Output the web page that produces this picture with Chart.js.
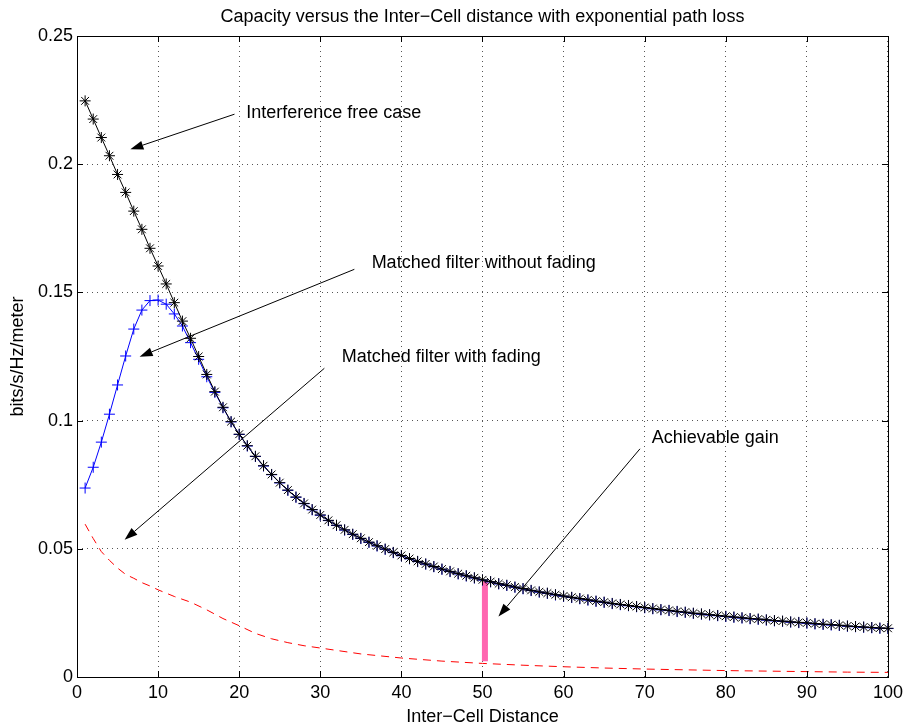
<!DOCTYPE html>
<html><head><meta charset="utf-8">
<script src="https://cdn.jsdelivr.net/npm/chart.js@4/dist/chart.umd.min.js"></script>
<style>html,body{margin:0;padding:0;background:#fff;}</style>
</head><body>
<canvas id="c" width="908" height="728"></canvas>
<script>
// ---- data ----
const distances = [1,2,3,4,5,6,7,8,9,10,11,12,13,14,15,16,17,18,19,20,21,22,23,24,25,26,27,28,29,30,
31,32,33,34,35,36,37,38,39,40,41,42,43,44,45,46,47,48,49,50,51,52,53,54,55,56,57,58,59,60,
61,62,63,64,65,66,67,68,69,70,71,72,73,74,75,76,77,78,79,80,81,82,83,84,85,86,87,88,89,90,
91,92,93,94,95,96,97,98,99,100];

const interferenceFree = [0.2247,0.2176,0.2104,0.2033,0.1960,0.1890,0.1817,0.1746,0.1672,0.1603,
0.1533,0.1460,0.1388,0.1321,0.1250,0.1180,0.1113,0.1052,0.0996,0.0947,
0.0902,0.0861,0.0824,0.0790,0.0758,0.0729,0.0702,0.0677,0.0653,0.0632,
0.0611,0.0592,0.0574,0.0557,0.0541,0.0526,0.0512,0.0499,0.0486,0.0474,
0.0462,0.0451,0.0441,0.0431,0.0421,0.0412,0.0403,0.0395,0.0387,0.0379,
0.0372,0.0364,0.0358,0.0351,0.0345,0.0338,0.0332,0.0327,0.0321,0.0316,
0.0311,0.0306,0.0301,0.0296,0.0292,0.0287,0.0283,0.0279,0.0275,0.0271,
0.0267,0.0263,0.0260,0.0256,0.0253,0.0249,0.0246,0.0243,0.0240,0.0237,
0.0234,0.0231,0.0228,0.0226,0.0223,0.0220,0.0218,0.0215,0.0213,0.0211,
0.0208,0.0206,0.0204,0.0202,0.0199,0.0197,0.0195,0.0193,0.0191,0.0190];

const matchedNoFading = [0.0737,0.0818,0.0916,0.1025,0.1139,0.1252,0.1357,0.1431,0.1468,0.1470,
0.1454,0.1416,0.1369,0.1304,0.1239,0.1171,0.1110,0.1050,0.0995,0.0946,
0.0901,0.0860,0.0823,0.0789,0.0757,0.0728,0.0701,0.0676,0.0652,0.0631,
0.0610,0.0591,0.0573,0.0556,0.0540,0.0525,0.0511,0.0498,0.0485,0.0473,
0.0461,0.0450,0.0440,0.0430,0.0420,0.0411,0.0402,0.0394,0.0386,0.0378,
0.0371,0.0363,0.0357,0.0350,0.0344,0.0337,0.0331,0.0326,0.0320,0.0315,
0.0310,0.0305,0.0300,0.0295,0.0291,0.0286,0.0282,0.0278,0.0274,0.0270,
0.0266,0.0262,0.0259,0.0255,0.0252,0.0248,0.0245,0.0242,0.0239,0.0236,
0.0233,0.0230,0.0227,0.0225,0.0222,0.0219,0.0217,0.0214,0.0212,0.0210,
0.0207,0.0205,0.0203,0.0201,0.0198,0.0196,0.0194,0.0192,0.0190,0.0189];

const fadingDistances = [1,2,3,4,5,6,7,8,9,10,12,14,16,18,20,22,24,26,28,30,35,40,45,50,55,60,65,70,75,80,85,90,95,100];
const matchedFading = [0.0596,0.0540,0.0489,0.0455,0.0425,0.0400,0.0385,0.0368,0.0355,0.0340,
0.0314,0.0292,0.0262,0.0228,0.0200,0.0170,0.0149,0.0134,0.0122,0.0113,
0.0090,0.0074,0.0062,0.0053,0.0046,0.0040,0.0035,0.0031,0.0028,0.0025,
0.0023,0.0021,0.0019,0.0018];

const gainX = [50.3, 50.3];
const gainY = [0.0373, 0.0061];

const xTickLabels = ['0','10','20','30','40','50','60','70','80','90','100'];
const yTickLabels = ['0','0.05','0.1','0.15','0.2','0.25'];

const notes = [
  {text:'Interference free case',       tx:20.86, ty:0.2198, x1:19.42, y1:0.2195, x2:6.58, y2:0.2058},
  {text:'Matched filter without fading', tx:36.33, ty:0.1616, x1:34.2,  y1:0.1590, x2:7.72, y2:0.1249},
  {text:'Matched filter with fading',   tx:32.64, ty:0.1249, x1:30.5,  y1:0.1204, x2:5.87, y2:0.0535},
  {text:'Achievable gain',              tx:70.86, ty:0.0931, x1:69.42, y1:0.0890, x2:51.97, y2:0.0236}
];

// ---- chart ----
const FONT = "'Liberation Sans', Arial, Helvetica, sans-serif";
const FS = 18;
const pts = (xs, ys) => xs.map((x, i) => ({x, y: ys[i]}));

const boxPlugin = {
  id: 'boxTicks',
  afterDatasetsDraw(chart) {
    const {ctx, chartArea: a, scales} = chart;
    ctx.save();
    ctx.strokeStyle = '#000';
    ctx.lineWidth = 1;
    ctx.strokeRect(Math.round(a.left) + 0.5, Math.round(a.top) + 0.5,
                   Math.round(a.right - a.left), Math.round(a.bottom - a.top));
    const L = 6;
    ctx.beginPath();
    scales.x.ticks.forEach(t => {
      const px = Math.round(scales.x.getPixelForValue(t.value)) + 0.5;
      ctx.moveTo(px, a.bottom); ctx.lineTo(px, a.bottom - L);
      ctx.moveTo(px, a.top); ctx.lineTo(px, a.top + L);
    });
    scales.y.ticks.forEach(t => {
      const py = Math.round(scales.y.getPixelForValue(t.value)) + 0.5;
      ctx.moveTo(a.left, py); ctx.lineTo(a.left + L, py);
      ctx.moveTo(a.right, py); ctx.lineTo(a.right - L, py);
    });
    ctx.stroke();

    // annotations
    ctx.font = FS + 'px ' + FONT;
    ctx.fillStyle = '#000';
    ctx.textBaseline = 'middle';
    ctx.textAlign = 'left';
    notes.forEach(n => {
      const x1 = scales.x.getPixelForValue(n.x1), y1 = scales.y.getPixelForValue(n.y1);
      const x2 = scales.x.getPixelForValue(n.x2), y2 = scales.y.getPixelForValue(n.y2);
      const ang = Math.atan2(y2 - y1, x2 - x1);
      const hl = 13, hw = 4.5;
      const bx = x2 - hl * Math.cos(ang), by = y2 - hl * Math.sin(ang);
      ctx.beginPath();
      ctx.moveTo(x1, y1); ctx.lineTo(bx, by);
      ctx.stroke();
      ctx.beginPath();
      ctx.moveTo(x2, y2);
      ctx.lineTo(bx + hw * Math.sin(ang), by - hw * Math.cos(ang));
      ctx.lineTo(bx - hw * Math.sin(ang), by + hw * Math.cos(ang));
      ctx.closePath();
      ctx.fill();
      ctx.fillText(n.text, scales.x.getPixelForValue(n.tx), scales.y.getPixelForValue(n.ty));
    });
    ctx.restore();
  }
};

new Chart(document.getElementById('c'), {
  type: 'line',
  data: {
    datasets: [
      {label:'Interference free case', data: pts(distances, interferenceFree), order: 1,
       borderColor:'#000', borderWidth:1, pointStyle:'star', pointRadius:5.5,
       pointBorderColor:'#000', pointBorderWidth:1, pointBackgroundColor:'#000', clip: 10},
      {label:'Matched filter without fading', data: pts(distances, matchedNoFading), order: 2,
       borderColor:'#0000ff', borderWidth:1, pointStyle:'cross', pointRadius:5.5,
       pointBorderColor:'#0000ff', pointBorderWidth:1, clip: 10},
      {label:'Matched filter with fading', data: pts(fadingDistances, matchedFading), order: 3,
       borderColor:'#ff0000', borderWidth:1, borderDash:[8,6], pointRadius:0, clip: 10},
      {label:'Achievable gain', data: pts(gainX, gainY), order: 4,
       borderColor:'#ff66b0', borderWidth:6, pointRadius:0, borderCapStyle:'butt', clip: 10}
    ]
  },
  options: {
    responsive: false,
    devicePixelRatio: 1,
    animation: false,
    layout: {padding: {left: 0, right: 19, top: 0, bottom: 0}},
    elements: {line: {tension: 0}},
    plugins: {
      legend: {display: false},
      tooltip: {enabled: false},
      title: {display: true, fullSize: false,
        text: 'Capacity versus the Inter\u2212Cell distance with exponential path loss',
        color: '#000', font: {family: FONT, size: FS, weight: 'normal', lineHeight: 1.2},
        padding: {top: 6, bottom: 8.4}}
    },
    scales: {
      x: {
        type: 'linear', min: 0, max: 100,
        afterFit: s => { s.height = 51; },
        ticks: {stepSize: 10, color: '#000', padding: 5, maxRotation: 0,
                font: {family: FONT, size: FS},
                callback: (v) => xTickLabels[Math.round(v / 10)]},
        grid: {color: '#555', lineWidth: 1, drawTicks: false},
        border: {display: false, dash: [1, 4]},
        title: {display: true, text: 'Inter\u2212Cell Distance', color: '#000',
                font: {family: FONT, size: FS, lineHeight: 1.2}, padding: {top: 1, bottom: 0}}
      },
      y: {
        type: 'linear', min: 0, max: 0.25,
        afterFit: s => { s.width = 77; },
        ticks: {stepSize: 0.05, color: '#000', padding: 4,
                font: {family: FONT, size: FS},
                callback: (v) => yTickLabels[Math.round(v / 0.05)]},
        grid: {color: '#555', lineWidth: 1, drawTicks: false},
        border: {display: false, dash: [1, 4]},
        title: {display: true, text: 'bits/s/Hz/meter', color: '#000',
                font: {family: FONT, size: FS, lineHeight: 1.2}, padding: {top: 7, bottom: 0}}
      }
    }
  },
  plugins: [boxPlugin]
});
</script>
</body></html>
